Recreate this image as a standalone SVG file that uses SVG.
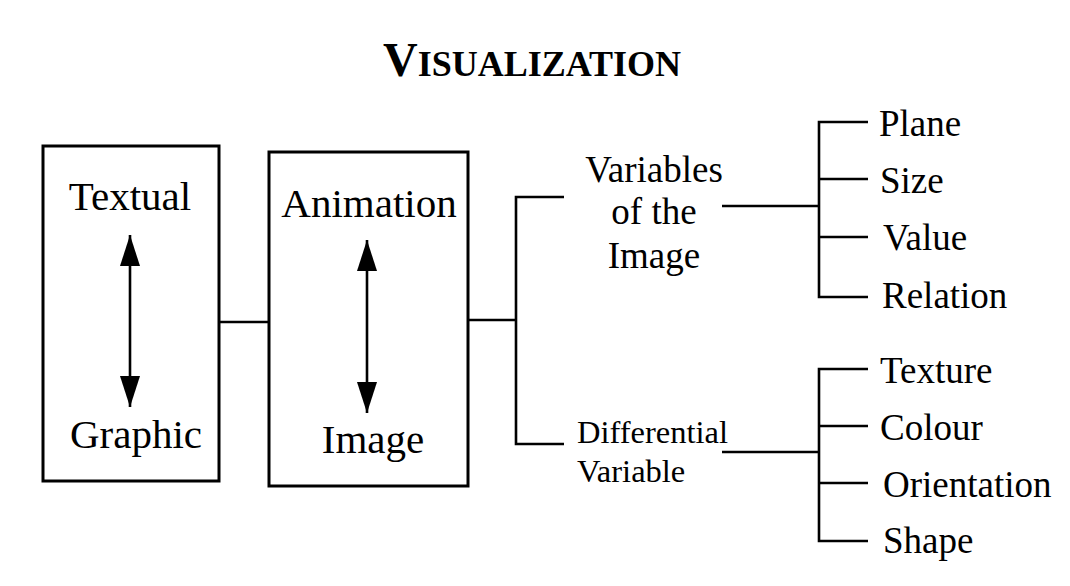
<svg xmlns="http://www.w3.org/2000/svg" width="1070" height="586" viewBox="0 0 1070 586">
<style>
text{font-family:"Liberation Serif","Times New Roman",serif;fill:#000}
.big{font-size:41px}
.mid{font-size:37px}
.sm{font-size:32.5px}
.box{fill:#fff;stroke:#000;stroke-width:3}
.ln{fill:none;stroke:#000;stroke-width:2.6}
.title{font-weight:bold}
</style>
<defs>
<marker id="ah" viewBox="0 0 31 20" refX="31" refY="10" markerWidth="31" markerHeight="20" markerUnits="userSpaceOnUse" orient="auto-start-reverse">
<path d="M0,0 L31,10 L0,20 Z" fill="#000"/>
</marker>
</defs>
<rect width="1070" height="586" fill="#fff"/>
<text class="title" x="383" y="76"><tspan font-size="48">V</tspan><tspan font-size="36">ISUALIZATION</tspan></text>
<g id="connectors">
<line class="ln" x1="219" y1="322" x2="269" y2="322"/>
<line class="ln" x1="468" y1="320" x2="516" y2="320"/>
<path class="ln" d="M564,197 H516 V444 H564"/>
<line class="ln" x1="722" y1="206" x2="819" y2="206"/>
<path class="ln" d="M868,122 H819 V297 H868 M819,179 H868 M819,237 H868"/>
<line class="ln" x1="722" y1="452" x2="819" y2="452"/>
<path class="ln" d="M868,369 H819 V541 H868 M819,426 H868 M819,483 H868"/>
</g>
<g id="node-textual-graphic">
<rect class="box" x="43" y="146" width="176" height="335"/>
<text class="big" x="130" y="210" text-anchor="middle">Textual</text>
<text class="big" x="136" y="448" text-anchor="middle">Graphic</text>
<line class="ln" x1="130" y1="235" x2="130" y2="407" marker-start="url(#ah)" marker-end="url(#ah)"/>
</g>
<g id="node-animation-image">
<rect class="box" x="269" y="152" width="199" height="334"/>
<text class="big" x="369" y="217" text-anchor="middle">Animation</text>
<text class="big" x="373" y="453" text-anchor="middle">Image</text>
<line class="ln" x1="367" y1="240" x2="367" y2="413" marker-start="url(#ah)" marker-end="url(#ah)"/>
</g>
<g id="node-variables-image">
<text class="mid" text-anchor="middle"><tspan x="654" y="182">Variables</tspan><tspan x="654" y="224">of the</tspan><tspan x="654" y="268">Image</tspan></text>
</g>
<g id="node-differential">
<text class="sm"><tspan x="577" y="443">Differential</tspan><tspan x="577" y="482">Variable</tspan></text>
</g>
<g id="node-plane"><text class="mid" x="879" y="136">Plane</text></g>
<g id="node-size"><text class="mid" x="880" y="193">Size</text></g>
<g id="node-value"><text class="mid" x="883" y="250">Value</text></g>
<g id="node-relation"><text class="mid" x="882" y="308">Relation</text></g>
<g id="node-texture"><text class="mid" x="880" y="383">Texture</text></g>
<g id="node-colour"><text class="mid" x="880" y="440">Colour</text></g>
<g id="node-orientation"><text class="mid" x="883" y="497">Orientation</text></g>
<g id="node-shape"><text class="mid" x="883" y="553">Shape</text></g>
</svg>
